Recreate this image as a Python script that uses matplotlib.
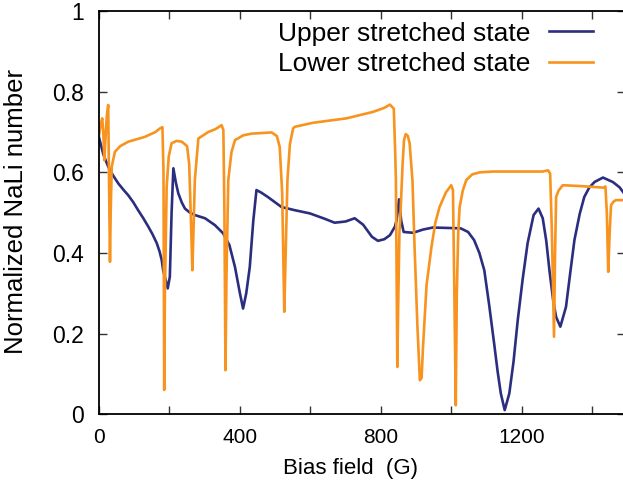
import matplotlib
matplotlib.use("Agg")
import matplotlib.pyplot as plt

plt.rcParams['font.family'] = ['Liberation Sans', 'DejaVu Sans']

# bias field (G) and normalized NaLi number
upper_x = [0, 12, 26, 40, 55, 70, 83, 97, 111, 125, 140, 152, 164, 172, 178, 182,
           190, 195, 201, 206, 211, 218, 225, 235, 244, 258, 272, 301, 329, 352,
           370, 386, 400, 409, 418, 428, 438, 447, 460, 479, 518, 556, 599, 640,
           669, 700, 726, 750, 775, 792, 810, 826, 840, 845, 852, 858, 865, 892,
           920, 948, 990, 1027, 1048, 1065, 1080, 1094, 1108, 1122, 1132, 1141,
           1152, 1165, 1177, 1189, 1203, 1217, 1234, 1248, 1260, 1270, 1279,
           1290, 1298, 1310, 1326, 1338, 1350, 1365, 1378, 1392, 1407, 1431,
           1459, 1478, 1495]
upper_y = [0.686, 0.645, 0.614, 0.592, 0.572, 0.556, 0.543, 0.526, 0.506, 0.487,
           0.465, 0.446, 0.424, 0.403, 0.382, 0.357, 0.33, 0.312, 0.341, 0.50,
           0.610, 0.575, 0.548, 0.525, 0.510, 0.500, 0.494, 0.486, 0.469, 0.449,
           0.42, 0.365, 0.30, 0.262, 0.30, 0.365, 0.48, 0.556, 0.55, 0.539, 0.514,
           0.506, 0.498, 0.485, 0.475, 0.478, 0.486, 0.47, 0.44, 0.43, 0.434,
           0.444, 0.465, 0.481, 0.533, 0.48, 0.452, 0.45, 0.458, 0.463, 0.462,
           0.461, 0.452, 0.432, 0.40, 0.357, 0.27, 0.175, 0.105, 0.051, 0.01,
           0.051, 0.13, 0.233, 0.335, 0.424, 0.494, 0.510, 0.486, 0.43, 0.357,
           0.28, 0.241, 0.217, 0.266, 0.35, 0.432, 0.497, 0.539, 0.562, 0.576,
           0.587, 0.576, 0.563, 0.543]

lower_x = [0, 5, 9, 12, 15, 18, 22, 26, 28, 31, 33, 36, 45, 60, 83, 130, 160,
           173, 180, 183, 185, 187, 192, 198, 206, 220, 235, 250, 256, 262, 265,
           268, 272, 282, 310, 330, 348, 353, 356, 359, 362, 367, 376, 386, 410,
           433, 490, 505, 513, 520, 526, 530, 535, 542, 551, 556, 608, 703, 778,
           810, 826, 837, 841, 843, 845, 847, 850, 853, 856, 862, 866, 871, 877,
           882, 890, 896, 904, 911, 916, 920, 930, 944, 955, 967, 985, 1000, 1005,
           1009, 1013, 1016, 1020, 1024, 1033, 1043, 1060, 1081, 1119, 1213, 1260,
           1275, 1281, 1286, 1292, 1295, 1298, 1305, 1317, 1365, 1433, 1438, 1442,
           1446, 1450, 1454, 1462, 1468, 1495]
lower_y = [0.692, 0.72, 0.734, 0.70, 0.63, 0.68, 0.74, 0.767, 0.60, 0.378, 0.50,
           0.614, 0.651, 0.665, 0.676, 0.688, 0.70, 0.709, 0.712, 0.60, 0.06,
           0.30, 0.564, 0.64, 0.672, 0.678, 0.676, 0.665, 0.62, 0.45, 0.357,
           0.45, 0.581, 0.684, 0.700, 0.707, 0.717, 0.705, 0.50, 0.109, 0.35,
           0.581, 0.65, 0.680, 0.692, 0.696, 0.699, 0.69, 0.663, 0.55, 0.254,
           0.40, 0.581, 0.67, 0.709, 0.713, 0.723, 0.734, 0.750, 0.760, 0.768,
           0.758, 0.65, 0.581, 0.35, 0.117, 0.30, 0.45, 0.498, 0.62, 0.68, 0.695,
           0.690, 0.672, 0.58, 0.415, 0.22, 0.084, 0.09, 0.167, 0.32, 0.415,
           0.475, 0.514, 0.55, 0.568, 0.556, 0.30, 0.022, 0.30, 0.45, 0.514,
           0.555, 0.581, 0.595, 0.600, 0.602, 0.602, 0.602, 0.605, 0.597, 0.45,
           0.192, 0.40, 0.539, 0.555, 0.568, 0.566, 0.562, 0.565, 0.50, 0.353,
           0.45, 0.519, 0.528, 0.531, 0.531]

x_ticks = [0, 200, 400, 600, 800, 1000, 1200, 1400]
x_labels = ["0", "", "400", "", "800", "", "1200", ""]
y_ticks = [0, 0.2, 0.4, 0.6, 0.8, 1]
y_labels = ["0", "0.2", "0.4", "0.6", "0.8", "1"]

navy = "#2b2e7f"
orange = "#f7931e"

fig = plt.figure(figsize=(6.23, 4.93), dpi=100)
ax = fig.add_axes([0.159, 0.160, 0.845, 0.8174])

ax.plot(upper_x, upper_y, color=navy, lw=1.9, label="Upper stretched state")
ax.plot(lower_x, lower_y, color=orange, lw=1.9, label="Lower stretched state")

ax.set_xlim(0, 1495)
ax.set_ylim(0, 1)
ax.set_xticks(x_ticks)
ax.set_xticklabels(x_labels, fontsize=15)
ax.set_yticks(y_ticks)
ax.set_yticklabels(y_labels, fontsize=16.5)
ax.tick_params(direction='in', length=6, width=1, top=True, right=True, color='#333333')
ax.tick_params(axis='x', pad=10)
ax.tick_params(axis='y', pad=11)
for s in ax.spines.values():
    s.set_linewidth(1.3)

ax.set_xlabel("Bias field  (G)", fontsize=16)
ax.xaxis.set_label_coords(0.477, -0.11)
ax.set_ylabel("Normalized NaLi number", fontsize=18.5)
ax.yaxis.set_label_coords(-0.135, 0.504)

ax.legend(loc='upper right', bbox_to_anchor=(0.958, 1.0), frameon=False,
          markerfirst=False, fontsize=19, handlelength=1.65, handletextpad=0.7,
          labelspacing=0.25, borderaxespad=0.0)

fig.savefig("out.png", dpi=100)
